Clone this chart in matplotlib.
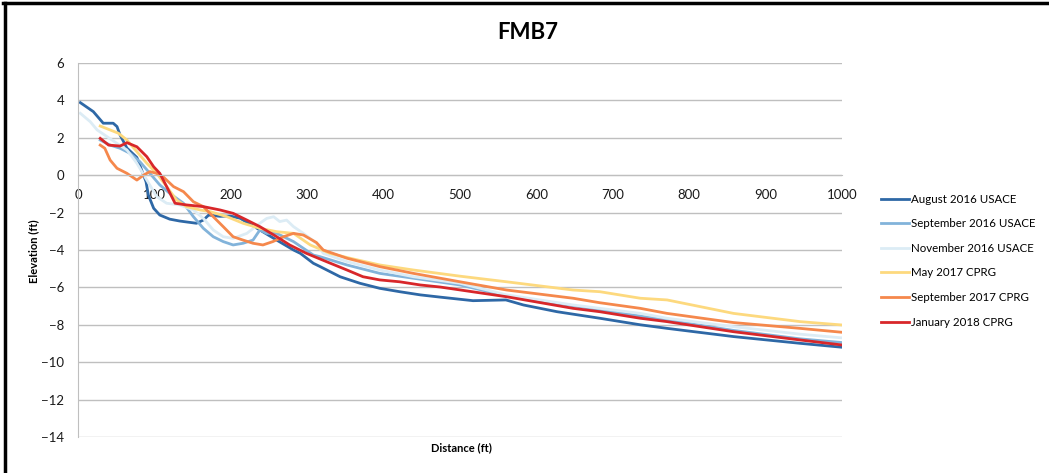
import matplotlib.pyplot as plt
from matplotlib.lines import Line2D

# survey profiles, distance (ft) vs elevation (ft)
aug16_x = [3, 20, 33, 46, 51, 55, 64, 77, 83, 89, 92, 99, 107, 120, 133, 142, 155, 164, 171, 186, 199,
           212, 238, 260, 282, 291, 308, 317, 343, 369, 395, 421, 448, 474, 517, 560, 583, 627, 683,
           736, 771, 858, 945, 1000]
aug16_y = [3.88, 3.4, 2.78, 2.78, 2.6, 2.15, 1.45, 0.95, 0.3, -0.35, -1.06, -1.77, -2.13, -2.35, -2.45,
           -2.5, -2.57, -2.4, -2.13, -2.2, -2.18, -2.3, -2.93, -3.47, -4.0, -4.18, -4.71, -4.89, -5.43,
           -5.78, -6.05, -6.23, -6.4, -6.52, -6.71, -6.67, -6.94, -7.3, -7.65, -8.0, -8.19, -8.63,
           -8.99, -9.2]

sep16_x = [29, 42, 55, 68, 81, 94, 107, 120, 138, 151, 164, 177, 190, 203, 216, 229, 238, 247, 260,
           282, 308, 317, 352, 395, 439, 500, 561, 648, 683, 771, 858, 945, 1000]
sep16_y = [1.88, 1.61, 1.44, 1.17, 0.72, 0.1, -0.52, -0.97, -1.5, -2.22, -2.84, -3.29, -3.55, -3.73,
           -3.64, -3.47, -2.93, -3.11, -3.11, -3.55, -4.27, -4.36, -4.8, -5.25, -5.51, -5.87, -6.45,
           -6.98, -7.2, -7.75, -8.3, -8.75, -8.95]

nov16_x = [3, 16, 25, 38, 51, 64, 77, 90, 103, 116, 133, 151, 164, 177, 190, 203, 221, 238, 247, 256,
           264, 273, 282, 295, 312, 321, 352, 395, 439, 500, 561, 648, 736, 771, 858, 945, 1000]
nov16_y = [3.31, 2.86, 2.42, 2.06, 1.7, 1.35, 0.64, -0.26, -1.15, -1.5, -1.59, -1.86, -2.31, -2.93,
           -3.29, -3.38, -3.11, -2.57, -2.31, -2.22, -2.48, -2.4, -2.75, -3.11, -3.64, -4.18, -4.62,
           -5.07, -5.43, -5.78, -6.4, -6.94, -7.39, -7.65, -8.1, -8.5, -8.7]

may17_x = [29, 42, 53, 64, 77, 90, 103, 116, 129, 142, 160, 173, 195, 216, 238, 260, 282, 304, 330,
           356, 395, 439, 500, 561, 648, 683, 736, 771, 858, 945, 1000]
may17_y = [2.63, 2.42, 2.24, 1.88, 1.26, 0.64, 0.1, -0.61, -1.33, -1.68, -1.86, -1.95, -2.22, -2.57,
           -2.84, -3.02, -3.11, -3.73, -4.18, -4.44, -4.8, -5.07, -5.4, -5.7, -6.14, -6.23, -6.58,
           -6.67, -7.39, -7.83, -8.01]

sep17_x = [29, 35, 42, 51, 64, 77, 86, 94, 103, 112, 125, 138, 151, 164, 177, 190, 203, 216, 229,
           242, 255, 269, 282, 295, 312, 321, 352, 395, 439, 500, 561, 648, 683, 736, 771, 858, 945,
           1000]
sep17_y = [1.61, 1.44, 0.81, 0.37, 0.1, -0.26, 0.01, 0.19, 0.1, -0.11, -0.61, -0.88, -1.42, -1.68,
           -2.22, -2.75, -3.29, -3.47, -3.64, -3.73, -3.55, -3.29, -3.11, -3.2, -3.6, -4.0, -4.44,
           -4.89, -5.25, -5.7, -6.14, -6.58, -6.82, -7.12, -7.39, -7.88, -8.19, -8.4]

jan18_x = [29, 40, 55, 64, 77, 90, 99, 107, 116, 127, 142, 164, 186, 203, 221, 238, 260, 277, 299,
           325, 352, 373, 395, 421, 448, 474, 561, 648, 683, 736, 771, 858, 945, 1000]
jan18_y = [1.97, 1.61, 1.56, 1.74, 1.52, 0.99, 0.45, 0.1, -0.61, -1.5, -1.59, -1.68, -1.86, -2.04,
           -2.4, -2.75, -3.29, -3.73, -4.18, -4.62, -5.07, -5.43, -5.6, -5.7, -5.87, -5.98, -6.5,
           -7.12, -7.3, -7.65, -7.83, -8.37, -8.81, -9.08]

labels = ["August 2016 USACE", "September 2016 USACE", "November 2016 USACE",
          "May 2017 CPRG", "September 2017 CPRG", "January 2018 CPRG"]
colors = ["#2E68A6", "#82B3DA", "#DCECF5", "#FDD97E", "#F5884C", "#D8272A"]

plt.rcParams['font.family'] = ['Lato', 'DejaVu Sans']

fig = plt.figure(figsize=(10.49, 4.73), dpi=100)
ax = fig.add_axes([0.0744, 0.0761, 0.7283, 0.7907])

series = [(aug16_x, aug16_y), (sep16_x, sep16_y), (nov16_x, nov16_y),
          (may17_x, may17_y), (sep17_x, sep17_y), (jan18_x, jan18_y)]
for (xs, ys), lab, c in zip(series, labels, colors):
    ax.plot(xs, ys, color=c, lw=2.0, label=lab, solid_joinstyle='round')

ax.set_xlim(0, 1000)
ax.set_ylim(-14, 6)
ax.set_xticks(range(0, 1001, 100))
ax.set_yticks(range(-14, 7, 2))
ax.grid(axis='y', color='#BFBFBF', lw=1)
ax.set_axisbelow(True)

for s in ['top', 'right']:
    ax.spines[s].set_visible(False)
ax.spines['bottom'].set_position(('data', 0))
ax.spines['bottom'].set_color('#BFBFBF')
ax.spines['left'].set_color('#BFBFBF')
ax.tick_params(length=0, labelsize=9.5, colors='#1A1A1A')
ax.tick_params(axis='x', pad=10)
ax.tick_params(axis='y', pad=10)

fig.text(0.503, 0.932, "FMB7", ha='center', va='center', fontsize=16, fontweight='bold')
fig.text(0.44, 0.054, "Distance (ft)", ha='center', va='center', fontsize=8, fontweight='bold')
fig.text(0.032, 0.47, "Elevation (ft)", ha='center', va='center', fontsize=8,
         fontweight='bold', rotation=90)

fig.legend(loc='upper left', bbox_to_anchor=(0.834, 0.603), frameon=False, fontsize=8.3,
           handlelength=2.5, handletextpad=0.15, labelspacing=1.18, borderpad=0)

# border along the top and left edges
fig.add_artist(Line2D([0.003, 1.0], [0.994, 0.994], color='black', lw=2.5,
                      transform=fig.transFigure))
fig.add_artist(Line2D([0.0045, 0.0045], [0.0, 0.994], color='black', lw=2.5,
                      transform=fig.transFigure))

fig.savefig("out.png", dpi=100)
